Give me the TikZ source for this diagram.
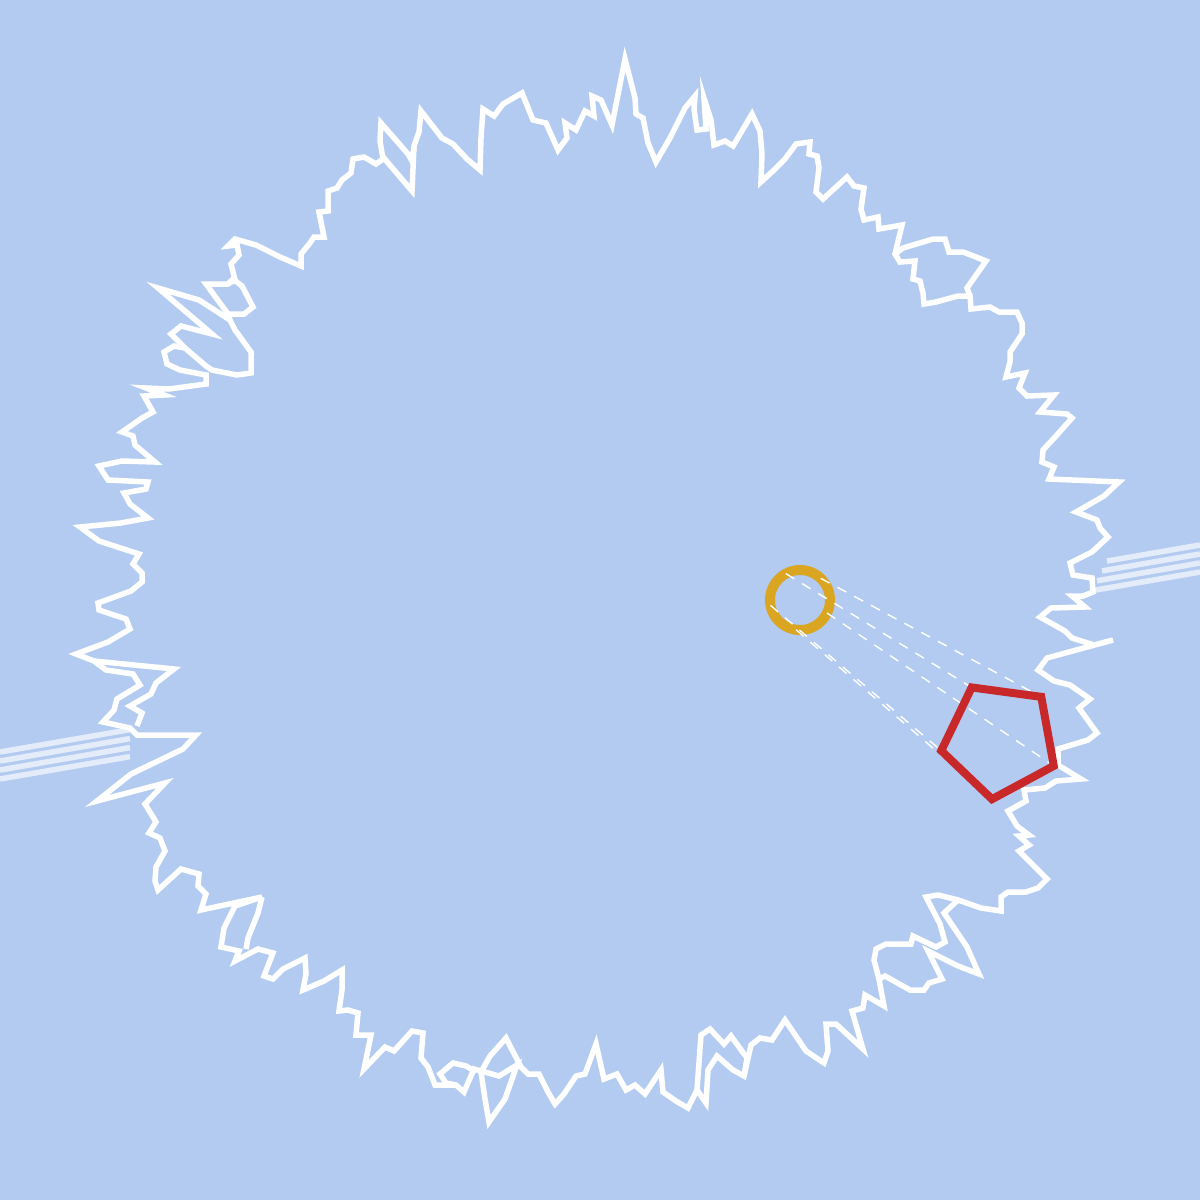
\documentclass[tikz,border=0pt]{standalone}
\usetikzlibrary{calc}
\definecolor{skyblue}{RGB}{179,203,240}
\definecolor{orbgold}{RGB}{218,165,32}
\definecolor{pentred}{RGB}{200,40,42}

\begin{document}
\begin{tikzpicture}[x=1pt,y=-1pt,
    ringline/.style={white,line width=5.5pt},
    beam/.style={white,opacity=.65,line width=5.5pt},
    ray/.style={white,line width=1.4pt,dash pattern=on 10pt off 9pt},
    orbline/.style={orbgold,line width=10pt},
    pentline/.style={pentred,line width=8pt}]
  \fill[skyblue] (0,0) rectangle (1200,1200);
  \useasboundingbox (0,0) rectangle (1200,1200);
  % beams, cut by the ring
  \foreach \k/\xs in {0/1107,1/1102,2/1097,3/1093}{
    \draw[beam] (0,{752+9*\k}) -- (130,{729.6+9*\k});
    \draw[beam] (\xs,{752-0.1725*\xs+9*\k}) -- (1200,{545+9*\k});
  }
  % jagged ring
  \draw[ringline] plot[sharp cycle] coordinates {
    (625,59) (635,98) (636,114) (643,118) (648,143) (656,162) (670,138) (685,108)
    (695,96) (694,109) (697,130) (706,129) (704,98) (711,120) (714,145) (725,141)
    (733,146) (752,114) (760,131) (762,154) (761,182) (774,170) (785,159) (796,144)
    (810,142) (809,154) (817,156) (819,168) (816,192) (823,199) (847,177) (854,186)
    (864,188) (861,209) (864,220) (878,217) (879,229) (902,225) (895,254) (900,262)
    (915,261) (913,279) (920,281) (923,293) (924,304) (936,302) (958,296) (970,296)
    (971,309) (990,307) (999,312) (1017,312) (1022,323) (1022,334) (1010,352) (1010,362)
    (1006,377) (1025,373) (1019,388) (1027,396) (1054,395) (1040,412) (1067,414) (1072,418)
    (1056,436) (1043,450) (1042,462) (1054,467) (1049,479) (1119,482) (1104,496) (1076,512)
    (1097,520) (1100,528) (1108,537) (1092,552) (1070,563) (1073,575) (1092,578) (1093,592)
    (1083,596) (1072,596) (1085,607) (1051,608) (1040,617) (1065,631) (1072,638) (1094,645) (1113,640)
    (1047,658) (1038,670) (1054,681) (1070,685) (1090,699) (1079,708) (1097,733) (1088,740)
    (1058,749) (1058,765) (1081,779) (1056,781) (1045,788) (1024,790) (1026,801) (1008,811)
    (1017,826) (1029,835) (1019,836) (1029,845) (1019,851) (1047,879) (1038,888) (1026,892)
    (1008,892) (1001,897) (1001,911) (981,908) (958,900) (944,913) (967,947) (979,974)
    (958,966) (928,951) (942,979) (929,983) (924,990) (910,990) (885,976) (879,979)
    (884,1006) (865,995) (863,1008) (852,1011) (863,1049) (836,1024) (826,1024) (828,1051)
    (824,1063) (806,1051) (785,1020) (772,1040) (760,1038) (751,1045) (744,1076) (733,1070)
    (717,1056) (708,1070) (706,1103) (697,1090) (688,1108) (676,1101) (663,1092) (661,1070)
    (645,1094) (635,1085) (626,1090) (617,1074) (604,1079) (596,1044) (585,1074) (576,1076)
    (564,1094) (555,1104) (548,1092) (539,1074) (528,1074) (521,1067) (506,1038) (490,1056)
    (481,1072) (485,1099) (489,1122) (505,1099) (517,1065) (499,1076) (474,1069) (464,1092)
    (456,1085) (435,1085) (428,1067) (421,1058) (423,1033) (412,1031) (394,1051) (385,1047)
    (364,1069) (371,1035) (356,1035) (358,1013) (348,1010) (339,1011) (342,990) (342,970)
    (324,981) (303,990) (306,974) (305,958) (283,969) (273,979) (264,976) (273,953)
    (258,949) (235,961) (239,951) (221,947) (224,928) (235,906) (262,897) (201,910)
    (206,894) (198,886) (199,874) (181,869) (158,890) (155,881) (156,867) (165,851)
    (160,838) (149,833) (156,822) (153,817) (145,804) (165,783) (97,801) (131,774)
    (183,749) (196,735) (137,735) (130,728) (103,722) (114,710) (117,699) (140,685)
    (133,674) (106,670) (94,661) (76,654) (108,642) (130,629) (126,619) (99,610)
    (98,603) (131,591) (142,582) (142,573) (133,564) (139,554) (99,541) (80,527)
    (121,523) (148,518) (130,504) (124,493) (146,489) (148,482) (108,480) (99,466)
    (122,461) (155,462) (135,445) (133,436) (122,432) (142,418) (153,412) (144,396)
    (164,395) (146,388) (169,389) (206,384) (206,375) (180,370) (167,364) (164,352)
    (174,346) (185,348) (206,366) (212,370) (237,375) (251,373) (251,352) (235,330)
    (230,320) (228,314) (206,284) (228,284) (235,280) (231,264) (239,255) (237,245)
    (228,246) (235,239) (256,245) (280,257) (301,266) (301,254) (310,243) (314,237)
    (324,237) (319,212) (328,211) (328,191) (337,188) (342,180) (351,173) (353,159)
    (364,157) (376,164) (383,159) (380,141) (381,123) (408,154) (412,161) (414,146)
    (419,132) (421,111) (442,138) (453,144) (467,159) (480,170) (481,138) (483,109)
    (494,116) (503,104) (522,93) (533,120) (546,123) (558,150) (567,138) (565,123)
    (576,130) (585,111) (594,116) (592,96) (601,100) (612,125)};
  % loops where the ring crosses itself
  \draw[ringline] (958,900) -- (938,895) -- (926,897) -- (940,924) -- (945,942) -- (936,947)
    -- (913,936) -- (911,944) -- (886,944) -- (876,949) -- (874,960) -- (879,979);
  \draw[ringline] (230,320) -- (199,300) -- (158,288) -- (212,334) -- (181,326) -- (171,334) -- (185,348);
  \draw[ringline] (228,314) -- (244,314) -- (253,307) -- (242,286) -- (233,279) -- (228,284);
  \draw[ringline] (383,157) -- (412,191) -- (414,146);
  \draw[ringline] (94,661) -- (174,669) -- (156,683) -- (151,694) -- (130,706) -- (142,713) -- (137,726);
  \draw[ringline] (456,1085) -- (446,1083) -- (440,1074) -- (453,1063) -- (466,1066) -- (476,1072);
  \draw[ringline] (262,897) -- (258,913) -- (248,938) -- (246,949);
  \draw[ringline] (697,1090) -- (701,1035) -- (710,1029) -- (724,1044) -- (731,1036) -- (747,1058) -- (744,1076);
  \draw[ringline] (895,254) -- (903,248) -- (933,239) -- (945,239) -- (949,252) -- (963,252)
    -- (976,257) -- (986,261) -- (967,288) -- (970,296);
  % orb, rays and pentagon
  \coordinate (oc) at (800,600);
  \coordinate (pc) at (1000,740);
  \draw[orbline] (oc) circle (30pt);
  \foreach \a [count=\i] in {97.7,169.7,241.7,313.7,25.7}{
    \coordinate (o\i) at ($(oc)+(\a:30)$);
    \coordinate (p\i) at ($(pc)+(\a:59.7)$);
  }
  \foreach \i in {1,...,5} \draw[ray] (o\i) -- (p\i);
  \draw[pentline] (p1) -- (p2) -- (p3) -- (p4) -- (p5) -- cycle;
\end{tikzpicture}
\end{document}
